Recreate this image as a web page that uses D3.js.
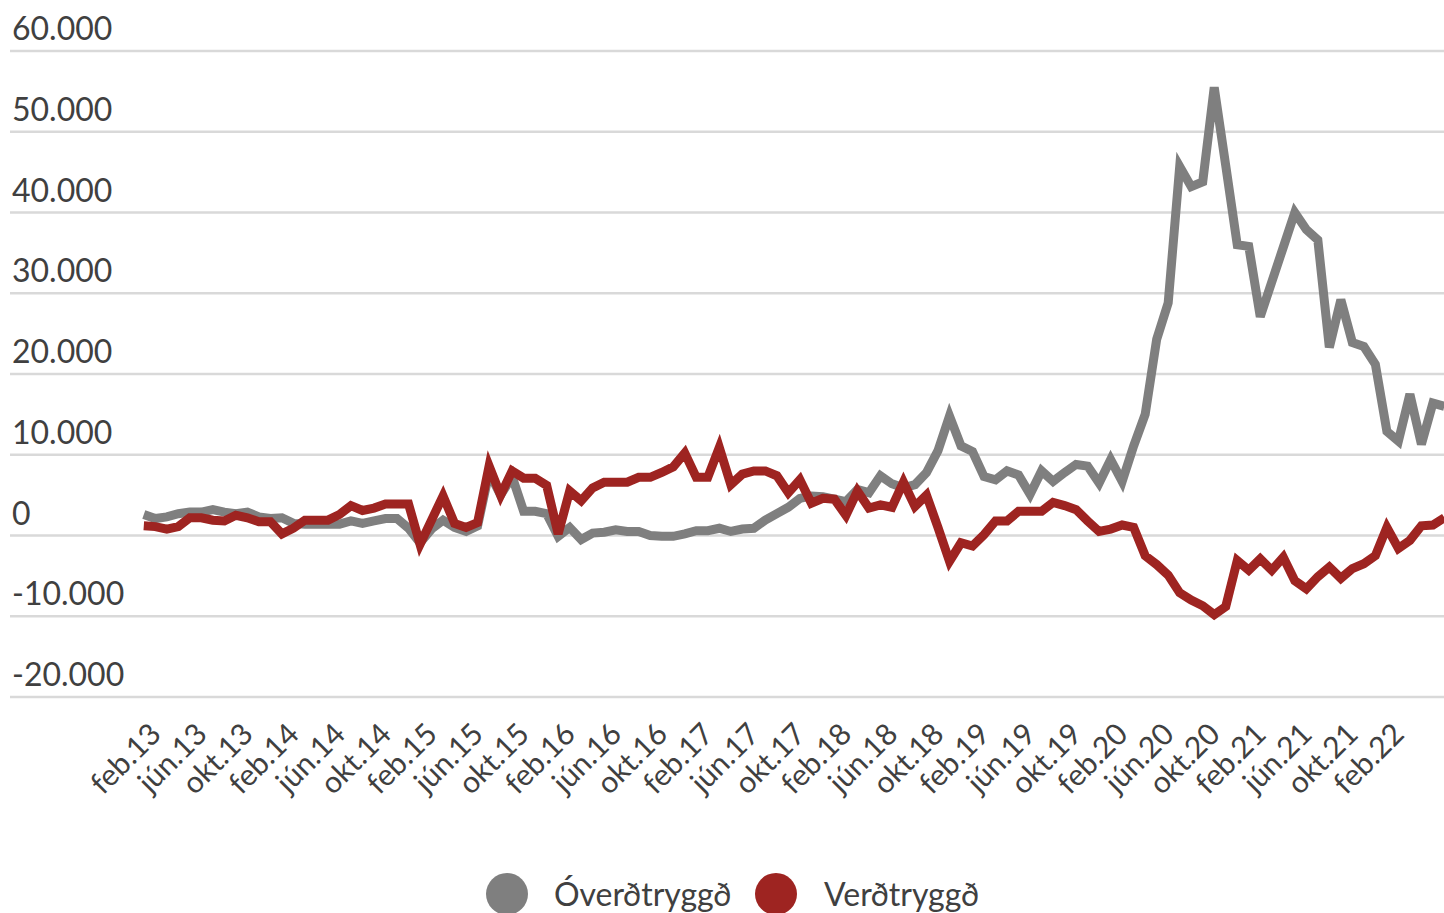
<!DOCTYPE html>
<html>
<head>
<meta charset="utf-8">
<script src="https://cdn.jsdelivr.net/npm/d3@7"></script>
<style>
  html, body { margin: 0; padding: 0; background: #fff; }
  svg text { font-family: Lato, "Open Sans", sans-serif; fill: #404040; }
</style>
</head>
<body>
<svg id="chart" width="1444" height="913"></svg>
<script>
// ---- data ----
const monthNames = ["jan","feb","mar","apr","maí","jún","júl","ágú","sep","okt","nóv","des"];
const startYear = 2013, startMonth = 1; // feb 2013
const seriesNames = ["Óverðtryggð", "Verðtryggð"];
const seriesColors = ["#7f7f7f", "#9e2421"];

const overdtryggd = [
  2600, 2100, 2300, 2700, 2900, 2900, 3200, 2900, 2700, 2900,
  2300, 2100, 2200, 1500, 1400, 1400, 1400, 1400, 1800, 1500,
  1800, 2100, 2100, 900, -900, 800, 1900, 1000, 500, 1200,
  7800, 5000, 7300, 3000, 3000, 2700, -100, 1000, -500, 300,
  400, 700, 500, 500, 0, -100, -100, 200, 600, 600,
  900, 500, 800, 900, 1900, 2700, 3500, 4600, 4900, 4800,
  4500, 4200, 5700, 5300, 7400, 6400, 5900, 6300, 7800, 10500,
  14800, 11100, 10400, 7300, 6900, 8000, 7500, 5100, 8000, 6700,
  7800, 8800, 8600, 6500, 9400, 6700, 11100, 15000, 24300, 28800,
  45700, 43200, 43800, 55500, 45800, 36000, 35800, 27100, 31400, 35700,
  40000, 37900, 36600, 23300, 29200, 23900, 23400, 21200, 12900, 11700,
  17500, 11300, 16400, 16000
];
const verdtryggd = [
  1200, 1100, 800, 1100, 2200, 2200, 1900, 1800, 2500, 2200,
  1700, 1700, 200, 900, 1900, 1900, 1900, 2600, 3700, 3100,
  3400, 3900, 3900, 3900, -1100, 1900, 4900, 1500, 1000, 1600,
  8600, 5000, 8000, 7100, 7100, 6200, 200, 5500, 4300, 5900,
  6600, 6600, 6600, 7200, 7200, 7800, 8500, 10200, 7200, 7200,
  10900, 6300, 7600, 8000, 8000, 7400, 5300, 6900, 4000, 4600,
  4500, 2500, 5500, 3400, 3800, 3500, 6600, 3600, 5000, 1000,
  -3200, -900, -1300, 100, 1800, 1800, 3000, 3000, 3000, 4100,
  3700, 3200, 1800, 500, 800, 1300, 1000, -2500, -3600, -4900,
  -7100, -8000, -8700, -9800, -8800, -3100, -4300, -2900, -4300, -2700,
  -5600, -6600, -5100, -3900, -5300, -4100, -3500, -2500, 1000, -1600,
  -600, 1200, 1300, 2200
];
const yTicks = [-20000, -10000, 0, 10000, 20000, 30000, 40000, 50000, 60000];
const tickEvery = 4;

// categories (monthly labels, e.g. "feb.13")
const categories = overdtryggd.map((_, i) => {
  const m = (startMonth + i) % 12;
  const y = startYear + Math.floor((startMonth + i) / 12);
  return monthNames[m] + "." + String(y).slice(2);
});

// ---- layout ----
const W = 1444, H = 913;
const svg = d3.select("#chart");

const x = d3.scaleLinear().domain([0, categories.length - 1]).range([143.8, 143.8 + 11.51 * (categories.length - 1)]);
const y = d3.scaleLinear().domain([-20000, 60000]).range([697, 51]);

const loc = d3.formatLocale({ decimal: ",", thousands: ".", grouping: [3], currency: ["", ""], minus: "-" });
const fmt = loc.format(",.0f");

// gridlines + y labels
const grid = svg.append("g");
grid.selectAll("line").data(yTicks).join("line")
  .attr("x1", 10).attr("x2", W)
  .attr("y1", d => y(d)).attr("y2", d => y(d))
  .attr("stroke", "#d9d9d9").attr("stroke-width", 2.5);
grid.selectAll("text").data(yTicks).join("text")
  .attr("x", 12).attr("y", d => y(d) - 11)
  .attr("font-size", 32)
  .text(d => fmt(d));

// x labels
const xl = svg.append("g");
const tickIdx = d3.range(0, categories.length, tickEvery).filter(i => i <= 108);
xl.selectAll("text").data(tickIdx).join("text")
  .attr("text-anchor", "end")
  .attr("font-size", 30)
  .attr("transform", i => `translate(${x(i) + 19},${736}) rotate(-45)`)
  .text(i => categories[i]);

// lines
const seriesData = [overdtryggd, verdtryggd];
const line = d3.line().x((d, i) => x(i)).y(d => y(d));
svg.append("defs").append("clipPath").attr("id", "clip")
  .append("rect").attr("x", 0).attr("y", 0).attr("width", W).attr("height", H);
const lines = svg.append("g").attr("clip-path", "url(#clip)");
lines.selectAll("path").data(seriesData).join("path")
  .attr("d", d => line(d))
  .attr("fill", "none")
  .attr("stroke", (d, i) => seriesColors[i])
  .attr("stroke-width", 9)
  .attr("stroke-linejoin", "miter")
  .attr("stroke-miterlimit", 4);

// legend
const legendItems = [
  { name: seriesNames[0], color: seriesColors[0], cx: 507, tx: 554 },
  { name: seriesNames[1], color: seriesColors[1], cx: 776, tx: 824 }
];
const lg = svg.append("g");
lg.selectAll("circle").data(legendItems).join("circle")
  .attr("cx", d => d.cx).attr("cy", 894).attr("r", 21)
  .attr("fill", d => d.color);
lg.selectAll("text").data(legendItems).join("text")
  .attr("x", d => d.tx).attr("y", 906)
  .attr("font-size", 32)
  .text(d => d.name);
</script>
</body>
</html>
